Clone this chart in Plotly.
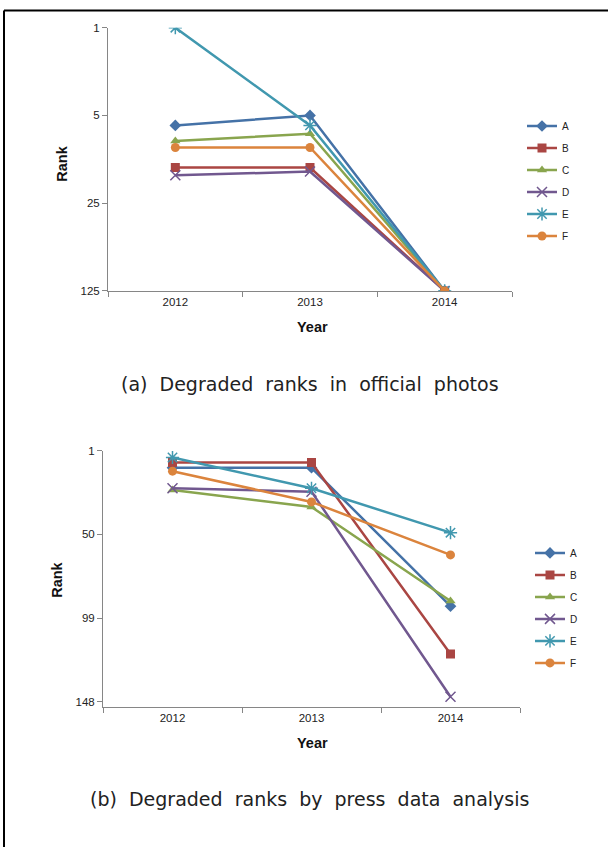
import plotly.graph_objects as go
import math

years = ["2012", "2013", "2014"]
series_names = ["A", "B", "C", "D", "E", "F"]

# (a) Degraded ranks in official photos
ranks_a_A = [6, 5, 125]
ranks_a_B = [13, 13, 125]
ranks_a_C = [8, 7, 125]
ranks_a_D = [15, 14, 125]
ranks_a_E = [1, 6, 125]
ranks_a_F = [9, 9, 125]

# (b) Degraded ranks by press data analysis
ranks_b_A = [11, 11, 92]
ranks_b_B = [8, 8, 120]
ranks_b_C = [24, 34, 89]
ranks_b_D = [23, 25, 145]
ranks_b_E = [5, 23, 49]
ranks_b_F = [13, 31, 62]

ticks_a = [1, 5, 25, 125]
ticks_b = [1, 50, 99, 148]

caption_a = "(a) Degraded ranks in official photos"
caption_b = "(b) Degraded ranks by press data analysis"

colors = ["#4572A7", "#AA4643", "#89A54E", "#71588F", "#4198AF", "#DB843D"]
symbols = ["diamond", "square", "triangle-up", "x-thin-open", "asterisk-open", "circle"]
sizes = [9, 9, 9, 10, 11, 9]

data_a = [ranks_a_A, ranks_a_B, ranks_a_C, ranks_a_D, ranks_a_E, ranks_a_F]
data_b = [ranks_b_A, ranks_b_B, ranks_b_C, ranks_b_D, ranks_b_E, ranks_b_F]

W, H = 608, 853
def px(x):
    return x / W
def py(y):
    return 1 - y / H

fig = go.Figure()

for i, name in enumerate(series_names):
    marker = dict(symbol=symbols[i], size=sizes[i], color=colors[i],
                  line=dict(color=colors[i], width=1.5 if "open" in symbols[i] else 0))
    fig.add_trace(go.Scatter(x=years, y=data_a[i], name=name, mode="lines+markers",
                             line=dict(color=colors[i], width=2.5), marker=marker,
                             xaxis="x", yaxis="y", legend="legend", legendgroup="a" + name))
for i, name in enumerate(series_names):
    marker = dict(symbol=symbols[i], size=sizes[i], color=colors[i],
                  line=dict(color=colors[i], width=1.5 if "open" in symbols[i] else 0))
    fig.add_trace(go.Scatter(x=years, y=data_b[i], name=name, mode="lines+markers",
                             line=dict(color=colors[i], width=2.5), marker=marker,
                             xaxis="x2", yaxis="y2", legend="legend2", legendgroup="b" + name))

axis_common = dict(showline=True, linecolor="#868686", linewidth=1, showgrid=False,
                   zeroline=False, ticks="outside", ticklen=5, tickcolor="#868686",
                   tickfont=dict(family="Liberation Sans", size=11.5, color="#222222"))

fig.update_layout(
    width=W, height=H,
    margin=dict(l=0, r=0, t=0, b=0),
    paper_bgcolor="white", plot_bgcolor="white",
    showlegend=True,
    xaxis=dict(domain=[px(108), px(512)], anchor="y", type="category",
               range=[-0.5, 2.5], tickson="boundaries", **axis_common),
    yaxis=dict(domain=[py(289), py(22)], anchor="x", type="log",
               range=[math.log10(125), math.log10(1)], tickvals=ticks_a,
               ticktext=[str(t) for t in ticks_a], **axis_common),
    xaxis2=dict(domain=[px(103), px(520)], anchor="y2", type="category",
                range=[-0.5, 2.5], tickson="boundaries", **axis_common),
    yaxis2=dict(domain=[py(711.5), py(451)], anchor="x2",
                range=[151.3, 1], tickvals=ticks_b,
                ticktext=[str(t) for t in ticks_b], **axis_common),
    legend=dict(x=px(522), y=py(107), xanchor="left", yanchor="top",
                font=dict(family="Liberation Sans", size=10, color="#222222"),
                tracegroupgap=3, bgcolor="rgba(0,0,0,0)"),
    legend2=dict(x=px(530), y=py(540), xanchor="left", yanchor="top",
                 font=dict(family="Liberation Sans", size=10, color="#222222"),
                 tracegroupgap=3, bgcolor="rgba(0,0,0,0)"),
)

title_font = dict(family="Liberation Sans", size=14.5, color="#111111")
annots = [
    dict(text="<b>Rank</b>", x=px(62), y=py(160), textangle=-90, font=title_font),
    dict(text="<b>Year</b>", x=px(312), y=py(326), font=title_font),
    dict(text="<b>Rank</b>", x=px(57), y=py(582), textangle=-90, font=title_font),
    dict(text="<b>Year</b>", x=px(312), y=py(748), font=title_font),
]
cap_font = dict(family="DejaVu Sans", size=19, color="#222222")
def spaced(s):
    return s.replace(" ", " \u00a0")
annots.append(dict(text=spaced(caption_a), x=px(310), y=py(383), font=cap_font))
annots.append(dict(text=spaced(caption_b), x=px(310), y=py(804), font=cap_font))
for a in annots:
    a.update(xref="paper", yref="paper", showarrow=False, xanchor="center", yanchor="middle")
fig.update_layout(annotations=annots)

fig.update_layout(shapes=[
    dict(type="line", xref="paper", yref="paper", x0=px(4), x1=1, y0=py(4.5), y1=py(4.5),
         line=dict(color="black", width=2)),
    dict(type="line", xref="paper", yref="paper", x0=px(4), x1=px(4), y0=0, y1=py(4.5),
         line=dict(color="black", width=2)),
])

fig.write_html("out.html", config={"displayModeBar": False},
               post_script="document.body.style.margin='0';document.body.style.overflow='hidden';")
